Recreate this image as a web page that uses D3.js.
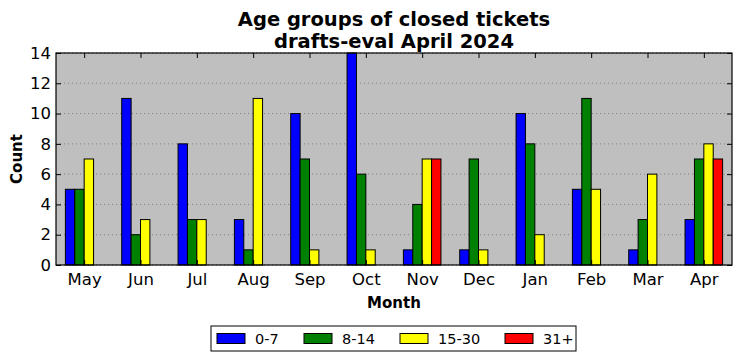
<!DOCTYPE html>
<html><head><meta charset="utf-8">
<script src="https://cdn.jsdelivr.net/npm/d3@7"></script>
<style>body{margin:0;background:#fff}svg{display:block;font-family:"DejaVu Sans",sans-serif}</style>
</head><body><svg id="c" width="741" height="361"></svg>
<script>
const months = ["May","Jun","Jul","Aug","Sep","Oct","Nov","Dec","Jan","Feb","Mar","Apr"];
const seriesNames = ["0-7","8-14","15-30","31+"];
const seriesColors = ["#0000ff","#008000","#ffff00","#ff0000"];
const s0_7   = [5,11,8,3,10,14,1,1,10,5,1,3];
const s8_14  = [5,2,3,1,7,6,4,7,8,11,3,7];
const s15_30 = [7,3,3,11,1,1,7,1,2,5,6,8];
const s31    = [0,0,0,0,0,0,7,0,0,0,0,7];
const yTicks = [0,2,4,6,8,10,12,14];
const series = [s0_7, s8_14, s15_30, s31];

const svg = d3.select("#c");
const m = {l:56, r:9, t:53, b:96};
const W = 741, H = 361;
const iw = W - m.l - m.r, ih = H - m.t - m.b;
const g = svg.append("g").attr("transform",`translate(${m.l},${m.t})`);

const x = d3.scaleLinear().domain([-0.5, months.length-0.5]).range([0, iw]);
const y = d3.scaleLinear().domain([0,14]).range([ih,0]);
const bw = 1/6;

g.append("rect").attr("width",iw).attr("height",ih).attr("fill","#bfbfbf");

// grid
g.append("g").selectAll("line").data(yTicks).join("line")
  .attr("x1",0).attr("x2",iw).attr("y1",d=>y(d)).attr("y2",d=>y(d))
  .attr("stroke","#808080").attr("stroke-width",1).attr("stroke-dasharray","1,3");

// bars
series.forEach((vals, si) => {
  g.append("g").selectAll("rect").data(vals).join("rect")
    .attr("x", (d,i)=> x(i - 2*bw + si*bw))
    .attr("width", x(bw) - x(0))
    .attr("y", d=> y(d))
    .attr("height", d=> y(0)-y(d))
    .attr("fill", seriesColors[si])
    .attr("stroke","#000").attr("stroke-width",1);
});

// axes
const ticks = d3.range(months.length);
const ax = g.append("g").attr("transform",`translate(0,${ih})`)
  .call(d3.axisBottom(x).tickValues(ticks).tickFormat(i=>months[i]).tickSize(-5).tickPadding(8));
ax.select(".domain").remove();
ax.selectAll("text").attr("font-size","16.5px").attr("fill","#000").attr("font-family","DejaVu Sans");
const axt = g.append("g").call(d3.axisTop(x).tickValues(ticks).tickFormat("").tickSize(-5));
axt.select(".domain").remove();
const ay = g.append("g").call(d3.axisLeft(y).tickValues(yTicks).tickSize(-5).tickPadding(5));
ay.select(".domain").remove();
ay.selectAll("text").attr("font-size","16.5px").attr("fill","#000").attr("font-family","DejaVu Sans");
const ayr = g.append("g").attr("transform",`translate(${iw},0)`).call(d3.axisRight(y).tickValues(yTicks).tickFormat("").tickSize(-5));
ayr.select(".domain").remove();

g.append("rect").attr("width",iw).attr("height",ih).attr("fill","none").attr("stroke","#000").attr("stroke-width",1.2);

// titles
svg.append("text").attr("x", m.l+iw/2).attr("y",26).attr("text-anchor","middle")
  .attr("font-weight","bold").attr("font-size","19.5px").text("Age groups of closed tickets");
svg.append("text").attr("x", m.l+iw/2).attr("y",48).attr("text-anchor","middle")
  .attr("font-weight","bold").attr("font-size","19.5px").text("drafts-eval April 2024");
svg.append("text").attr("x", m.l+iw/2).attr("y",308).attr("text-anchor","middle")
  .attr("font-weight","bold").attr("font-size","15px").text("Month");
svg.append("text").attr("transform",`translate(22,${m.t+ih/2}) rotate(-90)`).attr("text-anchor","middle")
  .attr("font-weight","bold").attr("font-size","15px").text("Count");

// legend
const lg = svg.append("g").attr("transform","translate(211,326)");
lg.append("rect").attr("width",365).attr("height",25).attr("fill","#fff").attr("stroke","#000").attr("stroke-width",1);
const lx = [6, 93, 189, 294];
seriesNames.forEach((n,i)=>{
  lg.append("rect").attr("x",lx[i]).attr("y",7.5).attr("width",28).attr("height",10)
    .attr("fill",seriesColors[i]).attr("stroke","#000").attr("stroke-width",1);
  lg.append("text").attr("x",lx[i]+38).attr("y",17.5).attr("font-size","14.5px").text(n);
});
</script></body></html>
